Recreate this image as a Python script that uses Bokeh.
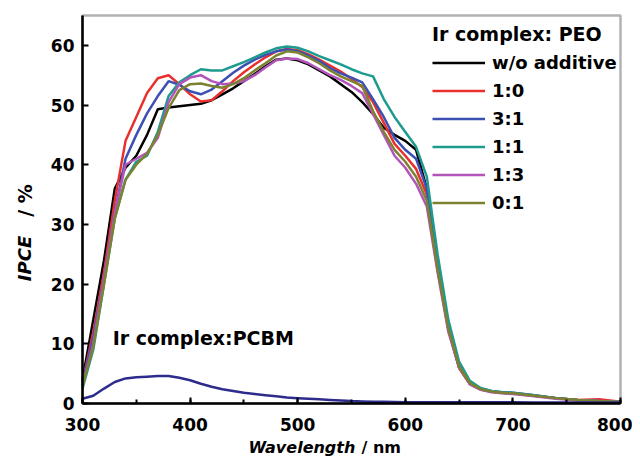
from bokeh.plotting import figure
from bokeh.models import (Legend, LegendItem, Label, SingleIntervalTicker, ColumnDataSource,
                          LinearAxis, BoxAnnotation, Range1d)
from bokeh.embed import file_html
from bokeh.resources import INLINE

# ---------------- data ----------------
wavelength = [300, 310, 320, 330, 340, 350, 360, 370, 380, 390,
              400, 410, 420, 430, 440, 450, 460, 470, 480, 490,
              500, 510, 520, 530, 540, 550, 560, 570, 580, 590,
              600, 610, 620, 630, 640, 650, 660, 670, 680, 690,
              700, 720, 740, 760, 780, 800]

ipce_wo = [4.0, 14.0, 24.0, 36.0, 39.5, 41.5, 45.0, 49.3, 49.6, 49.8,
           50.0, 50.2, 50.8, 51.8, 52.8, 54.0, 55.2, 56.5, 57.6, 57.8,
           57.5, 56.8, 55.8, 54.8, 53.5, 52.2, 50.5, 48.5, 46.2, 45.0,
           44.0, 42.5, 36.0, 23.0, 12.5, 6.0, 3.3, 2.4, 2.0, 1.8,
           1.7, 1.3, 0.9, 0.6, 0.4, 0.3]

ipce_10 = [3.5, 12.0, 22.0, 34.0, 44.0, 48.0, 52.0, 54.5, 55.0, 53.5,
           51.8, 50.6, 50.8, 52.3, 54.0, 55.5, 56.8, 58.0, 59.0, 59.4,
           59.2, 58.5, 57.6, 56.6, 55.6, 54.4, 53.0, 50.5, 47.0, 43.5,
           41.5, 39.3, 35.0, 22.5, 12.5, 6.0, 3.3, 2.4, 2.0, 1.8,
           1.7, 1.3, 0.9, 0.6, 0.7, 0.3]

ipce_31 = [3.5, 11.0, 21.0, 32.0, 41.0, 45.0, 48.6, 51.5, 54.0, 53.4,
           52.3, 51.8, 52.6, 54.0, 55.4, 56.6, 57.6, 58.4, 59.0, 59.3,
           59.0, 58.3, 57.4, 56.2, 55.3, 54.6, 53.8, 51.0, 48.0, 44.5,
           42.5, 41.0, 36.0, 23.5, 13.0, 6.5, 3.5, 2.5, 2.1, 1.9,
           1.8, 1.4, 0.9, 0.6, 0.4, 0.3]

ipce_11 = [2.5, 9.0, 20.0, 31.0, 37.5, 40.5, 41.5, 45.5, 51.5, 53.8,
           55.0, 56.0, 55.8, 55.8, 56.5, 57.2, 58.0, 58.8, 59.5, 59.8,
           59.6, 59.0, 58.2, 57.5, 56.8, 56.0, 55.3, 54.8, 51.0, 48.0,
           45.5, 43.0, 38.0, 25.0, 14.0, 7.0, 3.8, 2.6, 2.1, 1.9,
           1.8, 1.4, 0.9, 0.6, 0.4, 0.3]

ipce_13 = [3.0, 10.0, 21.0, 32.0, 40.0, 41.0, 42.0, 44.5, 50.5, 53.5,
           54.6, 55.0, 54.0, 53.5, 53.6, 54.0, 55.0, 56.3, 57.5, 57.8,
           57.7, 57.0, 56.0, 55.0, 54.2, 53.2, 52.0, 48.5, 45.0, 41.5,
           39.5, 36.8, 33.0, 22.0, 12.0, 6.0, 3.2, 2.3, 1.9, 1.7,
           1.6, 1.2, 0.8, 0.5, 0.4, 0.3]

ipce_01 = [3.0, 9.5, 20.0, 31.0, 37.5, 40.0, 41.8, 45.0, 49.5, 52.5,
           53.5, 53.6, 53.2, 52.9, 53.5, 54.5, 55.8, 57.0, 58.3, 59.0,
           58.8, 58.0, 57.0, 55.8, 54.8, 54.0, 53.2, 49.0, 45.5, 42.5,
           40.5, 38.0, 34.0, 22.5, 12.5, 6.2, 3.4, 2.4, 2.0, 1.8,
           1.7, 1.3, 0.9, 0.6, 0.4, 0.3]

ipce_pcbm = [0.8, 1.3, 2.5, 3.6, 4.2, 4.4, 4.5, 4.6, 4.6, 4.3,
             3.9, 3.3, 2.8, 2.4, 2.1, 1.8, 1.6, 1.4, 1.2, 1.0,
             0.9, 0.8, 0.7, 0.6, 0.5, 0.4, 0.35, 0.3, 0.3, 0.25,
             0.2, 0.2, 0.2, 0.2, 0.2, 0.2, 0.2, 0.2, 0.2, 0.2,
             0.2, 0.15, 0.15, 0.15, 0.15, 0.15]

series_labels = ["w/o additive", "1:0", "3:1", "1:1", "1:3", "0:1"]
series_values = [ipce_wo, ipce_10, ipce_31, ipce_11, ipce_13, ipce_01]
series_colors = ["#000000", "#E8312F", "#3C50B4", "#1E9B8F", "#B254BA", "#7D8230"]
pcbm_color = "#2D2C8C"

legend_title = "Ir complex: PEO"
pcbm_label = "Ir complex:PCBM"

X_MIN, X_MAX = 300, 800
Y_MIN, Y_MAX = 0, 65

FONT = "DejaVu Sans"

# ---------------- layout (pixels) ----------------
W, H = 632, 461
LEFT, RIGHT, TOP, BOTTOM = 82, 12, 15, 58          # space around the plotting box
px_x = (W - LEFT - RIGHT) / (X_MAX - X_MIN)
px_y = (H - TOP - BOTTOM) / (Y_MAX - Y_MIN)

x_range = Range1d(X_MIN - LEFT / px_x, X_MAX + RIGHT / px_x)
y_range = Range1d(Y_MIN - BOTTOM / px_y, Y_MAX + TOP / px_y)

p = figure(width=W, height=H, x_range=x_range, y_range=y_range,
           x_axis_type=None, y_axis_type=None,
           output_backend="svg", toolbar_location=None,
           min_border=0)
p.outline_line_color = None
p.background_fill_color = "white"
p.border_fill_color = "white"

xaxis = LinearAxis(fixed_location=Y_MIN, bounds=(X_MIN, X_MAX),
                   ticker=SingleIntervalTicker(interval=100, num_minor_ticks=2))
yaxis = LinearAxis(fixed_location=X_MIN, bounds=(Y_MIN, Y_MAX),
                   ticker=SingleIntervalTicker(interval=10, num_minor_ticks=0))
for ax in (xaxis, yaxis):
    ax.axis_line_width = 2.5
    ax.axis_line_color = "black"
    ax.major_tick_line_width = 2
    ax.major_tick_line_color = "black"
    ax.major_tick_in = 6
    ax.major_tick_out = 0
    ax.minor_tick_line_width = 2
    ax.minor_tick_line_color = "black"
    ax.minor_tick_in = 4
    ax.minor_tick_out = 0
    ax.major_label_text_font = FONT
    ax.major_label_text_font_style = "bold"
    ax.major_label_text_font_size = "17px"
    ax.major_label_text_color = "black"
xaxis.major_label_standoff = 14
yaxis.major_label_standoff = 8
yaxis.minor_tick_line_color = None
p.add_layout(xaxis, "below")
p.add_layout(yaxis, "left")

# plotting box outline
p.add_layout(BoxAnnotation(left=X_MIN, right=X_MAX, bottom=Y_MIN, top=Y_MAX,
                           fill_alpha=0, line_color="black", line_width=2.5))

renderers = []
for lab, vals, col in zip(series_labels, series_values, series_colors):
    src = ColumnDataSource(dict(x=wavelength, y=vals))
    r = p.line("x", "y", source=src, line_color=col, line_width=2.5)
    renderers.append(r)

src_pcbm = ColumnDataSource(dict(x=wavelength, y=ipce_pcbm))
p.line("x", "y", source=src_pcbm, line_color=pcbm_color, line_width=2.5)

legend = Legend(items=[LegendItem(label=l, renderers=[r]) for l, r in zip(series_labels, renderers)],
                location=(432, 248), title=legend_title,
                title_text_font=FONT, title_text_font_style="bold", title_text_font_size="19px",
                title_text_color="black", title_standoff=7,
                label_text_font=FONT, label_text_font_style="bold", label_text_font_size="18px",
                label_text_color="black",
                glyph_width=53, glyph_height=21, label_height=21, spacing=7, label_standoff=7,
                padding=0, margin=0, border_line_color=None, background_fill_alpha=0)
p.add_layout(legend)

p.add_layout(Label(x=328, y=11, text=pcbm_label, text_font=FONT, text_font_style="bold",
                   text_font_size="19px", text_baseline="middle", text_color="black"))

# axis titles (screen units from the bottom-left corner of the canvas)
p.add_layout(Label(x=248, y=14, x_units="screen", y_units="screen", text="Wavelength",
                   text_font=FONT, text_font_style="bold italic", text_font_size="16px",
                   text_baseline="alphabetic", text_align="left", text_color="black"))
p.add_layout(Label(x=361, y=14, x_units="screen", y_units="screen", text="/ nm",
                   text_font=FONT, text_font_style="bold", text_font_size="16px",
                   text_baseline="alphabetic", text_align="left", text_color="black"))
p.add_layout(Label(x=24, y=H - 258, x_units="screen", y_units="screen", text="IPCE",
                   angle=1.5708, text_font=FONT, text_font_style="bold italic",
                   text_font_size="18px", text_baseline="middle", text_align="center",
                   text_color="black"))
p.add_layout(Label(x=24, y=H - 200, x_units="screen", y_units="screen", text="/ %",
                   angle=1.5708, text_font=FONT, text_font_style="bold",
                   text_font_size="19px", text_baseline="middle", text_align="center",
                   text_color="black"))

open("out.html", "w").write(file_html(p, INLINE))
